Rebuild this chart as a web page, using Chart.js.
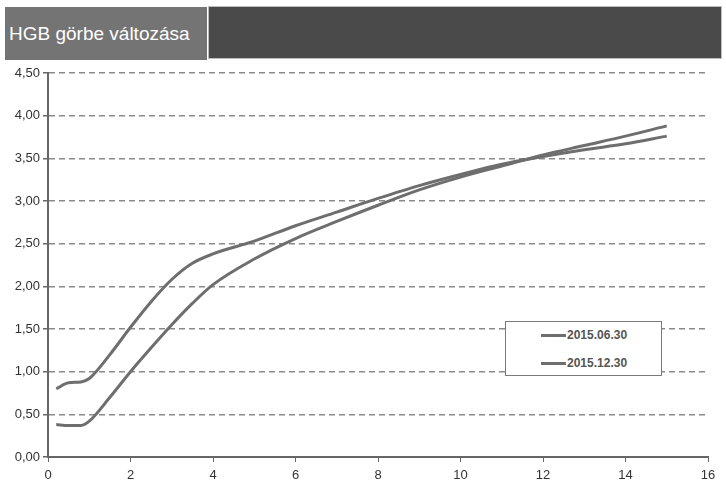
<!DOCTYPE html>
<html>
<head>
<meta charset="utf-8">
<script src="https://cdn.jsdelivr.net/npm/chart.js@4"></script>
<style>
  body { margin: 0; background: #fff; }
  #wrap { position: relative; width: 726px; height: 489px; font-family: "Liberation Sans", Arial, sans-serif; }
  #chart { position: absolute; left: 0; top: 0; }
  .titleBox { position: absolute; left: 5px; top: 7px; width: 202px; height: 53px; background: #747474; color: #fff;
    font-size: 19px; line-height: 53px; padding-left: 4px; box-sizing: border-box; white-space: nowrap; overflow: hidden; }
  .darkBox { position: absolute; left: 208px; top: 6px; width: 514px; height: 53px; background: #4a4a4a; border: 1px solid #bdbdbd; box-sizing: border-box; }
  .legend { position: absolute; left: 505px; top: 321px; width: 157px; height: 55px; border: 1px solid #7a7a7a; background: #fff; box-sizing: border-box; }
  .row { position: absolute; left: 35px; font-size: 12px; font-weight: bold; color: #555; height: 14px; line-height: 14px; }
  .row span { display: inline-block; width: 25px; height: 3px; background: #6e6e6e; vertical-align: middle; margin-right: 1px; }
</style>
</head>
<body>
<div id="wrap">
  <canvas id="chart" width="726" height="489"></canvas>
  <div class="titleBox">HGB görbe változása</div>
  <div class="darkBox"></div>
  <div class="legend">
    <div class="row" style="top:6px"><span></span>2015.06.30</div>
    <div class="row" style="top:34px"><span></span>2015.12.30</div>
  </div>
</div>
<script>
const seriesNames = ['2015.06.30', '2015.12.30'];
const xValues = [0.2, 0.5, 0.8, 1.0, 1.5, 2, 2.5, 3, 3.5, 4, 5, 6, 7, 8, 9, 10, 11, 12, 13, 14, 15];
const valuesJun = [0.80, 0.87, 0.88, 0.92, 1.20, 1.52, 1.82, 2.08, 2.27, 2.38, 2.53, 2.71, 2.87, 3.03, 3.18, 3.31, 3.43, 3.52, 3.60, 3.67, 3.76];
const valuesDec = [0.38, 0.37, 0.37, 0.42, 0.70, 1.00, 1.28, 1.55, 1.80, 2.02, 2.32, 2.56, 2.76, 2.95, 3.13, 3.28, 3.41, 3.54, 3.65, 3.76, 3.88];

const ctx = document.getElementById('chart').getContext('2d');

function toPoints(ys) {
    return xValues.map((x, i) => ({ x: x, y: ys[i] }));
}

new Chart(ctx, {
    type: 'line',
    data: {
        datasets: [
            { label: seriesNames[0], data: toPoints(valuesJun), borderColor: '#6e6e6e', borderWidth: 3, pointRadius: 0, cubicInterpolationMode: 'monotone' },
            { label: seriesNames[1], data: toPoints(valuesDec), borderColor: '#6e6e6e', borderWidth: 3, pointRadius: 0, cubicInterpolationMode: 'monotone' }
        ]
    },
    options: {
        responsive: false,
        animation: false,
        layout: { padding: { top: 73, right: 18, left: 0, bottom: 0 } },
        plugins: { legend: { display: false }, tooltip: { enabled: false } },
        scales: {
            x: {
                type: 'linear', min: 0, max: 16,
                afterFit: scale => { scale.height = 32; },
                ticks: { stepSize: 2, color: '#333', font: { family: 'Liberation Sans, Arial', size: 13 }, padding: 6 },
                grid: { drawOnChartArea: false, drawTicks: true, tickLength: 5, color: '#666' },
                border: { color: '#666', width: 2 }
            },
            y: {
                min: 0, max: 4.5,
                afterFit: scale => { scale.width = 48; },
                ticks: {
                    stepSize: 0.5, color: '#333', font: { family: 'Liberation Sans, Arial', size: 13 }, padding: 3,
                    callback: v => v.toFixed(2).replace('.', ',')
                },
                grid: { color: '#8a8a8a', lineWidth: 1.5, tickLength: 5, tickColor: '#666', tickBorderDash: [] },
                border: { color: '#666', width: 2, dash: [6, 4] }
            }
        }
    }
});
</script>
</body>
</html>
